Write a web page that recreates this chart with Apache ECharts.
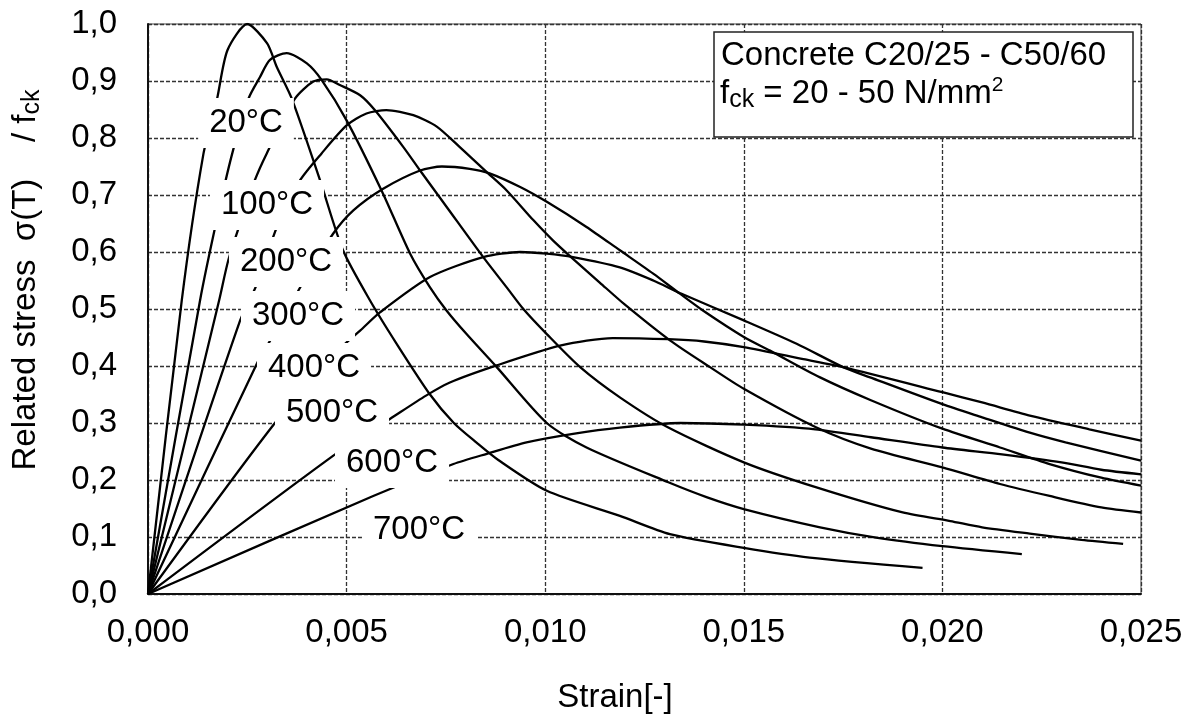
<!DOCTYPE html>
<html>
<head>
<meta charset="utf-8">
<script src="https://cdn.jsdelivr.net/npm/echarts@6/dist/echarts.min.js"></script>
<style>
  html, body { margin: 0; padding: 0; background: #fff; }
  #chart { width: 1194px; height: 720px; }
</style>
</head>
<body>
<div id="chart"></div>
<script>
// Stress–strain curves of normal concrete at elevated temperature.
// Each point: [strain, related stress σ(T)/fck]
const temperatures = ['20°C', '100°C', '200°C', '300°C', '400°C', '500°C', '600°C', '700°C'];

const curve20 = [[0,0],[0.00085,0.515],[0.00139,0.77],[0.00174,0.869],[0.0020,0.954],[0.0025,1.0],[0.0030,0.966],[0.00324,0.925],[0.00362,0.869],[0.00433,0.726],[0.00491,0.603],[0.00559,0.515],[0.00626,0.439],[0.0071,0.35],[0.0077,0.30],[0.00828,0.265],[0.00882,0.235],[0.01004,0.181],[0.01188,0.137],[0.01314,0.105],[0.015,0.081],[0.01666,0.064],[0.0195,0.046]];
const curve100 = [[0,0],[0.00131,0.515],[0.00173,0.656],[0.00211,0.77],[0.00253,0.869],[0.00282,0.907],[0.00307,0.937],[0.00349,0.949],[0.0040,0.931],[0.00437,0.902],[0.0050,0.831],[0.00588,0.708],[0.0066,0.597],[0.0071,0.538],[0.00752,0.497],[0.00802,0.456],[0.00878,0.398],[0.01004,0.30],[0.01104,0.257],[0.0131,0.196],[0.01406,0.17],[0.015,0.149],[0.01692,0.117],[0.01833,0.099],[0.020,0.084],[0.022,0.070]];
const curve200 = [[0,0],[0.00179,0.515],[0.00202,0.585],[0.00232,0.650],[0.00269,0.726],[0.00299,0.773],[0.0037,0.869],[0.00416,0.899],[0.0045,0.903],[0.00483,0.893],[0.00534,0.875],[0.00571,0.849],[0.00643,0.784],[0.00685,0.743],[0.00752,0.679],[0.00844,0.591],[0.00903,0.538],[0.00945,0.50],[0.01004,0.456],[0.01088,0.398],[0.01188,0.345],[0.0131,0.292],[0.015,0.231],[0.01683,0.187],[0.019,0.143],[0.0202,0.128],[0.021,0.117],[0.0222,0.106],[0.0235,0.095],[0.02455,0.088]];
const curve300 = [[0,0],[0.00232,0.48],[0.00272,0.54],[0.00315,0.626],[0.00332,0.656],[0.00383,0.726],[0.00437,0.773],[0.0050,0.822],[0.0055,0.843],[0.006,0.849],[0.00668,0.840],[0.00727,0.820],[0.00785,0.784],[0.00853,0.740],[0.00903,0.708],[0.0097,0.656],[0.0102,0.620],[0.0107,0.588],[0.01138,0.546],[0.012,0.508],[0.01314,0.445],[0.01415,0.398],[0.015,0.36],[0.01683,0.292],[0.0182,0.255],[0.020,0.222],[0.02145,0.193],[0.0227,0.172],[0.024,0.152],[0.025,0.143]];
const curve400 = [[0,0],[0.00274,0.404],[0.00307,0.444],[0.0039,0.546],[0.00466,0.632],[0.00517,0.673],[0.00592,0.711],[0.00685,0.743],[0.0074,0.750],[0.0081,0.746],[0.0086,0.738],[0.00937,0.714],[0.01004,0.688],[0.01104,0.644],[0.01188,0.603],[0.01272,0.562],[0.01339,0.527],[0.01398,0.497],[0.015,0.451],[0.01566,0.427],[0.01692,0.38],[0.0182,0.34],[0.020,0.29],[0.02145,0.257],[0.0227,0.228],[0.024,0.204],[0.025,0.19]];
const curve500 = [[0,0],[0.00324,0.304],[0.00492,0.436],[0.00534,0.462],[0.00584,0.494],[0.0071,0.556],[0.00844,0.591],[0.00937,0.600],[0.01004,0.597],[0.0107,0.591],[0.01188,0.573],[0.01272,0.550],[0.01339,0.528],[0.015,0.480],[0.01633,0.439],[0.0175,0.398],[0.01818,0.38],[0.020,0.333],[0.021,0.310],[0.0222,0.283],[0.0231,0.266],[0.025,0.234]];
const curve600 = [[0,0],[0.00471,0.245],[0.00609,0.307],[0.007,0.348],[0.0076,0.371],[0.00878,0.401],[0.0104,0.436],[0.0117,0.449],[0.0131,0.447],[0.014,0.443],[0.015,0.433],[0.0165,0.412],[0.0175,0.398],[0.020,0.354],[0.021,0.336],[0.0222,0.313],[0.0237,0.289],[0.025,0.269]];
const curve700 = [[0,0],[0.00567,0.172],[0.00769,0.228],[0.00853,0.246],[0.00953,0.266],[0.0107,0.281],[0.01188,0.292],[0.0134,0.300],[0.015,0.297],[0.0168,0.289],[0.0182,0.275],[0.020,0.257],[0.0215,0.245],[0.023,0.231],[0.024,0.218],[0.025,0.210]];

const curves = [curve20, curve100, curve200, curve300, curve400, curve500, curve600, curve700];

const xTickLabels = ['0,000', '0,005', '0,010', '0,015', '0,020', '0,025'];
const yTickLabels = ['0,0', '0,1', '0,2', '0,3', '0,4', '0,5', '0,6', '0,7', '0,8', '0,9', '1,0'];

const FONT = '"Liberation Sans", Arial, sans-serif';
const FS = 33;

// Where each temperature tag sits (pixel centres) – white boxes interrupt lines behind them
const tagCentres = [[246, 123], [267, 205], [286, 262], [298, 316], [314, 368], [332, 413], [392, 463], [419, 530]];

const chart = echarts.init(document.getElementById('chart'), null, { renderer: 'canvas' });

const tagElements = temperatures.map((t, i) => ({
  type: 'text',
  z: 100,
  x: tagCentres[i][0],
  y: tagCentres[i][1],
  style: {
    text: t,
    font: FS + 'px ' + FONT,
    fill: '#000',
    align: 'center', textAlign: 'center',
    verticalAlign: 'middle', textVerticalAlign: 'middle',
    backgroundColor: '#fff',
    padding: [8, 11, 9, 11]
  }
}));

const option = {
  animation: false,
  backgroundColor: '#fff',
  grid: {
    left: 148, top: 24, width: 993, height: 570,
    show: true, borderColor: '#444', borderWidth: 1, backgroundColor: 'transparent'
  },
  xAxis: {
    type: 'value', min: 0, max: 0.025, interval: 0.005,
    axisLine: { show: true, onZero: false, lineStyle: { color: '#111', width: 2 } },
    axisTick: { show: false },
    axisLabel: {
      margin: 22, color: '#000', fontSize: FS, fontFamily: FONT,
      formatter: v => xTickLabels[Math.round(v / 0.005)]
    },
    splitLine: { show: true, lineStyle: { color: '#333', width: 1.3, type: [4, 2] } }
  },
  yAxis: {
    type: 'value', min: 0, max: 1, interval: 0.1,
    axisLine: { show: true, onZero: false, lineStyle: { color: '#111', width: 2 } },
    axisTick: { show: false },
    axisLabel: {
      margin: 31, color: '#000', fontSize: FS, fontFamily: FONT,
      formatter: v => yTickLabels[Math.round(v / 0.1)]
    },
    splitLine: { show: true, lineStyle: { color: '#333', width: 1.3, type: [4, 2] } }
  },
  series: curves.map((c, i) => ({
    name: temperatures[i],
    type: 'line',
    data: c,
    showSymbol: false,
    smooth: 0.25,
    lineStyle: { color: '#000', width: 2.3 },
    z: 3,
    silent: true
  })),
  graphic: [
    ...tagElements,
    // material note box
    {
      type: 'rect', z: 100,
      shape: { x: 714, y: 32, width: 419, height: 105 },
      style: { fill: '#fff', stroke: '#222', lineWidth: 1.5 }
    },
    {
      type: 'text', z: 101, x: 721, y: 56,
      style: {
        text: 'Concrete C20/25 - C50/60', font: FS + 'px ' + FONT, fill: '#000',
        align: 'left', textAlign: 'left', verticalAlign: 'middle', textVerticalAlign: 'middle'
      }
    },
    {
      type: 'text', z: 101, x: 720, y: 94,
      style: {
        text: '{m|f}{sub|ck}{m| = 20 - 50 N/mm}{sup|2}',
        align: 'left', textAlign: 'left', verticalAlign: 'middle', textVerticalAlign: 'middle',
        rich: {
          m: { fontSize: FS, fontFamily: FONT, fill: '#000', color: '#000', lineHeight: 38, verticalAlign: 'middle' },
          sub: { fontSize: 25, fontFamily: FONT, fill: '#000', color: '#000', lineHeight: 22, verticalAlign: 'bottom' },
          sup: { fontSize: 21, fontFamily: FONT, fill: '#000', color: '#000', lineHeight: 30, verticalAlign: 'top' }
        }
      }
    },
    // axis titles
    {
      type: 'text', z: 101, x: 26, y: 280, rotation: Math.PI / 2,
      style: {
        text: '{m|Related stress  σ(T)    / f}{sub|ck}',
        align: 'center', textAlign: 'center', verticalAlign: 'middle', textVerticalAlign: 'middle',
        rich: {
          m: { fontSize: FS, fontFamily: FONT, fill: '#000', color: '#000', lineHeight: 38, verticalAlign: 'middle' },
          sub: { fontSize: 25, fontFamily: FONT, fill: '#000', color: '#000', lineHeight: 22, verticalAlign: 'bottom' }
        }
      }
    },
    {
      type: 'text', z: 101, x: 615, y: 698,
      style: {
        text: 'Strain[-]', font: FS + 'px ' + FONT, fill: '#000',
        align: 'center', textAlign: 'center', verticalAlign: 'middle', textVerticalAlign: 'middle'
      }
    }
  ]
};

chart.setOption(option);
</script>
</body>
</html>
